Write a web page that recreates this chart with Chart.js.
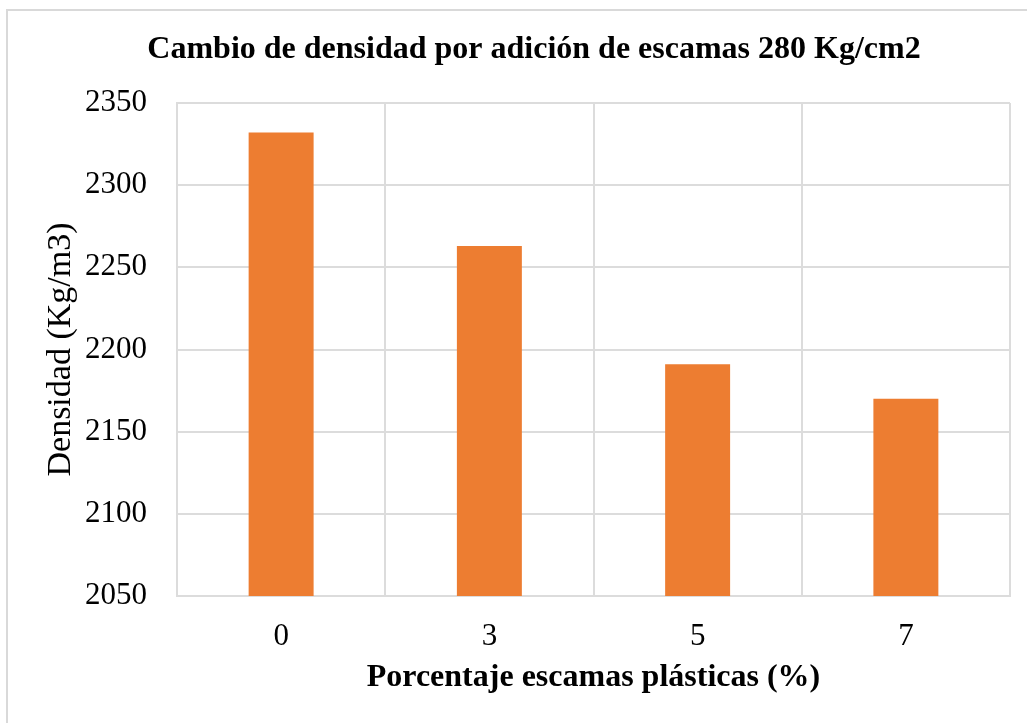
<!DOCTYPE html>
<html>
<head>
<meta charset="utf-8">
<script src="https://cdn.jsdelivr.net/npm/chart.js@4"></script>
<style>
  html, body { margin: 0; padding: 0; background: #fff; }
  #wrap { position: relative; width: 1027px; height: 723px; }
  #frame {
    position: absolute; left: 6px; top: 9px; right: 0; bottom: 0;
    border-left: 2px solid #d9d9d9; border-top: 2px solid #d9d9d9;
  }
  canvas { position: absolute; left: 0; top: 0; }
</style>
</head>
<body>
<div id="wrap">
  <div id="frame"></div>
  <canvas id="densityChart" width="1027" height="723"></canvas>
</div>
<script>
// --- Data ---
const categories = ['0', '3', '5', '7'];
const densityValues = [2332, 2263, 2191, 2170];
const yMin = 2050;
const yMax = 2350;
const yStep = 50;

const chartTitle = 'Cambio de densidad por adición de escamas 280 Kg/cm2';
const xTitle = 'Porcentaje escamas plásticas (%)';
const yTitle = 'Densidad (Kg/m3)';

const serif = "'Liberation Serif', 'Times New Roman', serif";
const gridColor = '#dcdcdc';

// --- Chart.js Setup ---
// left padding shifts the centred title right like the original; y width keeps plot left at 177
const ctx = document.getElementById('densityChart').getContext('2d');
const densityChart = new Chart(ctx, {
    type: 'bar',
    data: {
        labels: categories,
        datasets: [{
            label: 'Densidad',
            data: densityValues,
            backgroundColor: '#ed7d31',
            borderWidth: 0,
            categoryPercentage: 1,
            barPercentage: 0.312
        }]
    },
    options: {
        responsive: false,
        animation: false,
        layout: {
            padding: { left: 58, right: 17, top: 0, bottom: 0 }
        },
        plugins: {
            legend: { display: false },
            tooltip: { enabled: false },
            title: {
                display: true,
                text: chartTitle,
                color: '#000',
                font: { family: serif, size: 32, weight: 'bold', lineHeight: 1.2 },
                padding: { top: 31, bottom: 33.6 }
            }
        },
        scales: {
            x: {
                grid: { color: gridColor, lineWidth: 2, drawTicks: false, offset: true },
                border: { color: gridColor, width: 2 },
                ticks: {
                    color: '#000',
                    padding: 22,
                    font: { family: serif, size: 31 }
                },
                title: {
                    display: true,
                    text: xTitle,
                    color: '#000',
                    font: { family: serif, size: 32, weight: 'bold', lineHeight: 1.2 },
                    padding: { top: 0, bottom: 26 }
                },
                afterFit: (scale) => { scale.height = 127; }
            },
            y: {
                min: yMin,
                max: yMax,
                grid: { color: gridColor, lineWidth: 2, drawTicks: false },
                border: { color: gridColor, width: 2 },
                ticks: {
                    stepSize: yStep,
                    color: '#000',
                    padding: 30,
                    font: { family: serif, size: 31 },
                    callback: (value) => String(value)
                },
                title: {
                    display: true,
                    text: yTitle,
                    color: '#000',
                    font: { family: serif, size: 34, lineHeight: 1.2 },
                    padding: { top: -17.4, bottom: 0 }
                },
                afterFit: (scale) => { scale.width = 119; }
            }
        }
    }
});
</script>
</body>
</html>
